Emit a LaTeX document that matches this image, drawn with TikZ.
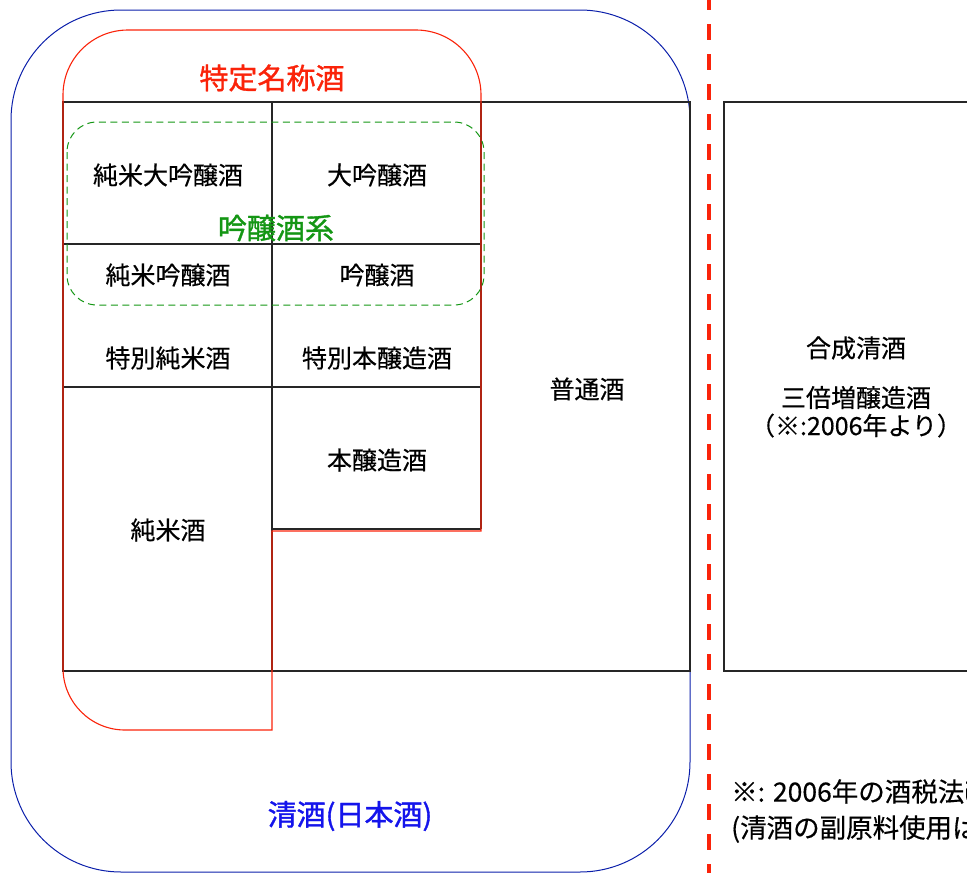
\documentclass[tikz,border=0pt]{standalone}
\usepackage{fontspec}
\setmainfont{Noto Sans CJK JP}[FakeBold=0.4]
\newfontfamily\grpfont{Noto Sans CJK JP}[FakeBold=1.2]
\usetikzlibrary{positioning}

\definecolor{seishublue}{RGB}{10,30,170}
\definecolor{labelblue}{RGB}{20,20,235}
\definecolor{tokuteired}{RGB}{250,35,10}
\definecolor{ginjogreen}{RGB}{20,150,20}

\tikzset{
	cell/.style={font=\fontsize{25}{28}\selectfont, align=center, inner sep=0pt},
	grouplabel/.style={font=\grpfont\fontsize{29}{32}\selectfont, inner sep=0pt},
	gridline/.style={line width=1.3pt, black!85},
}

\begin{document}
\begin{tikzpicture}[x=1pt,y=-1pt]
	\useasboundingbox (0,0) rectangle (967,873);
	% 清酒 (outer)
	\draw[seishublue, line width=1pt, rounded corners=110pt] (11,10) rectangle (690,872);
	% grid
	\draw[gridline] (63,102) rectangle (690,671);
	\draw[gridline] (272,102) -- (272,671)
		(63,244) -- (481,244)
		(63,387) -- (481,387)
		(272,529) -- (481,529)
		(481,102) -- (481,529);
	% 特定名称酒
	\draw[tokuteired, line width=1.1pt] (481,531) -- (272,531) -- (272,730) -- (125,730)
		arc[start angle=90, end angle=180, radius=62] -- (63,95)
		arc[start angle=180, end angle=270, radius=65] -- (416,30)
		arc[start angle=270, end angle=360, radius=65] -- cycle;
	% 吟醸酒系
	\draw[ginjogreen, line width=1pt, dash pattern=on 7pt off 4.5pt, rounded corners=30pt] (67,122) rectangle (484,305);
	% divider
	\draw[tokuteired, line width=4.5pt, dash pattern=on 16pt off 14pt] (709,-6) -- (709,880);
	\draw[gridline] (724,102) rectangle (1000,671);

	\node[grouplabel, text=tokuteired] (tokutei) at (272,78) {特定名称酒};
	\node[grouplabel, text=ginjogreen] (ginjokei) at (276,228) {吟醸酒系};
	\node[grouplabel, text=labelblue] (seishu) at (350,816) {清酒(日本酒)};

	\node[cell] (junmaidaiginjo) at (168,175) {純米大吟醸酒};
	\node[cell] (daiginjo) at (377,175) {大吟醸酒};
	\node[cell] (junmaiginjo) at (168,275) {純米吟醸酒};
	\node[cell] (ginjo) at (377,275) {吟醸酒};
	\node[cell] (tokubetsujunmai) at (168,358) {特別純米酒};
	\node[cell] (tokubetsuhonjozo) at (377,358) {特別本醸造酒};
	\node[cell] (honjozo) at (377,460) {本醸造酒};
	\node[cell] (junmai) at (168,530) {純米酒};
	\node[cell] (futsu) at (587,389) {普通酒};

	\node[cell] (gosei) at (856,348) {合成清酒};
	\node[cell, below=26pt of gosei] (sanbai) {三倍増醸造酒\\（※:2006年より）};

	\node[cell, anchor=west, align=left, font=\fontsize{26.5}{36}\selectfont] (note) at (731,811) {※: 2006年の酒税法改\\(清酒の副原料使用は};
\end{tikzpicture}
\end{document}
